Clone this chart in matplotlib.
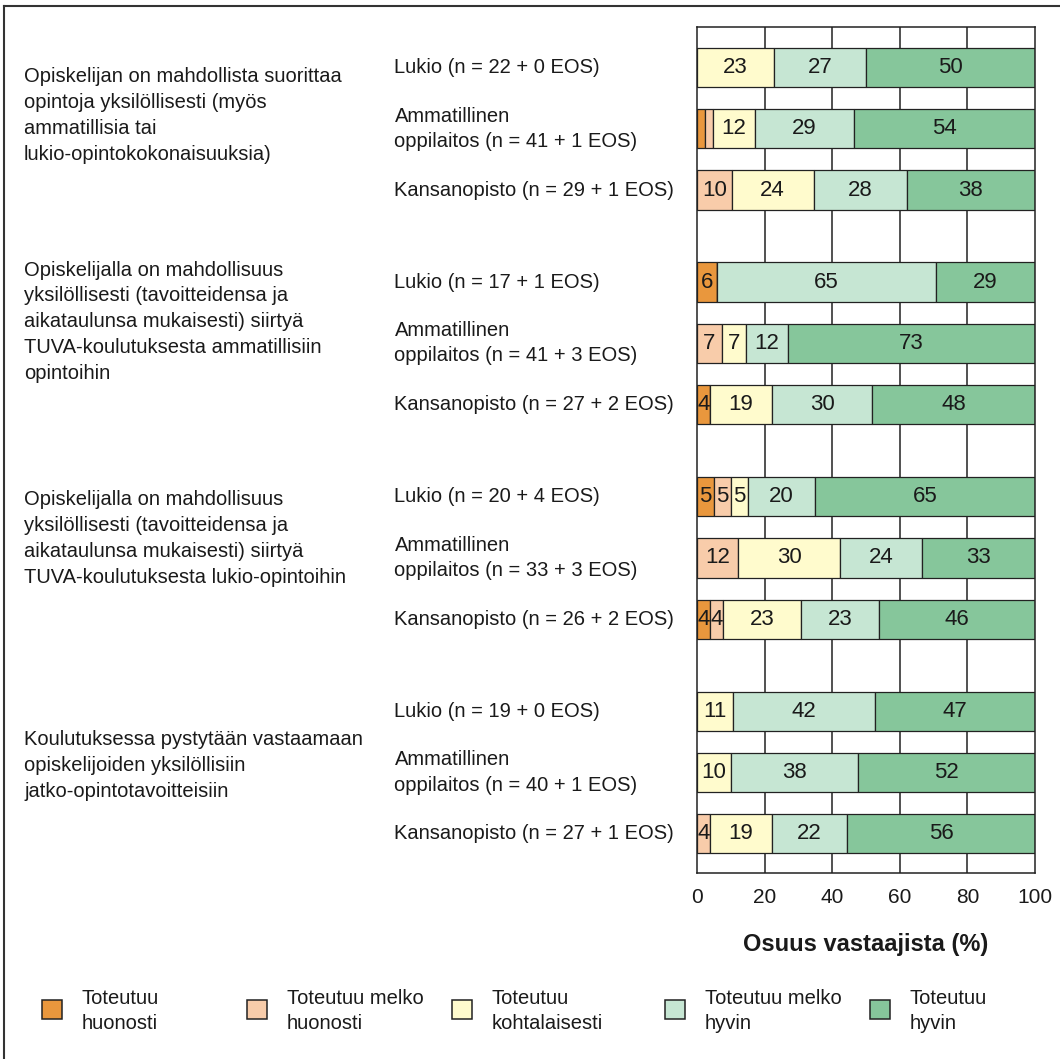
import matplotlib
matplotlib.use("Agg")
import matplotlib.pyplot as plt
from matplotlib.patches import Rectangle
from matplotlib.lines import Line2D
import numpy as np

plt.rcParams['font.family'] = ['Liberation Sans', 'DejaVu Sans']

# Response categories (legend order) and their fill colours
categories = ["Toteutuu\nhuonosti", "Toteutuu melko\nhuonosti", "Toteutuu\nkohtalaisesti",
              "Toteutuu melko\nhyvin", "Toteutuu\nhyvin"]
colors = ["#E9973D", "#F8CCAA", "#FFFBCD", "#C6E6D3", "#86C69B"]

# Statement texts (one per group of three bars)
statements = [
    "Opiskelijan on mahdollista suorittaa\nopintoja yksilöllisesti (myös\nammatillisia tai\nlukio-opintokokonaisuuksia)",
    "Opiskelijalla on mahdollisuus\nyksilöllisesti (tavoitteidensa ja\naikataulunsa mukaisesti) siirtyä\nTUVA-koulutuksesta ammatillisiin\nopintoihin",
    "Opiskelijalla on mahdollisuus\nyksilöllisesti (tavoitteidensa ja\naikataulunsa mukaisesti) siirtyä\nTUVA-koulutuksesta lukio-opintoihin",
    "Koulutuksessa pystytään vastaamaan\nopiskelijoiden yksilöllisiin\njatko-opintotavoitteisiin",
]

# Institution rows, top to bottom
row_labels = [
    "Lukio (n = 22 + 0 EOS)", "Ammatillinen\noppilaitos (n = 41 + 1 EOS)", "Kansanopisto (n = 29 + 1 EOS)",
    "Lukio (n = 17 + 1 EOS)", "Ammatillinen\noppilaitos (n = 41 + 3 EOS)", "Kansanopisto (n = 27 + 2 EOS)",
    "Lukio (n = 20 + 4 EOS)", "Ammatillinen\noppilaitos (n = 33 + 3 EOS)", "Kansanopisto (n = 26 + 2 EOS)",
    "Lukio (n = 19 + 0 EOS)", "Ammatillinen\noppilaitos (n = 40 + 1 EOS)", "Kansanopisto (n = 27 + 1 EOS)",
]

# Shares (%) per category, one value per row
huonosti       = [0,    2.44, 0,    5.88,  0,    3.70,  5,  0,     3.85,  0,     0,    0]
melko_huonosti = [0,    2.44, 10.34, 0,    7.32, 0,     5,  12.12, 3.85,  0,     0,    3.70]
kohtalaisesti  = [22.73, 12.20, 24.14, 0,   7.32, 18.52, 5,  30.30, 23.08, 10.53, 10.0, 18.52]
melko_hyvin    = [27.27, 29.27, 27.59, 64.71, 12.20, 29.63, 20, 24.24, 23.08, 42.11, 37.5, 22.22]
hyvin          = [50.0, 53.66, 37.93, 29.41, 73.17, 48.15, 65, 33.33, 46.15, 47.37, 52.5, 55.56]

series = [huonosti, melko_huonosti, kohtalaisesti, melko_hyvin, hyvin]

x_ticks = [0, 20, 40, 60, 80, 100]
x_label = "Osuus vastaajista (%)"

# Row positions: three rows per group, half-row gap between groups
ypos = np.array([g * 3.5 + r for g in range(4) for r in range(3)])
group_label_y = [0.78, 4.15, 7.68, 11.39]

W, H = 1060, 1059
fig = plt.figure(figsize=(W / 100, H / 100), dpi=100)
ax = fig.add_axes([697 / W, 1 - 873 / H, 338 / W, 846 / H])

edge = "#222222"
for xv in x_ticks[1:-1]:
    ax.axvline(xv, color=edge, lw=1.1, zorder=0)

left = np.zeros(len(ypos))
for vals, col in zip(series, colors):
    vals = np.array(vals, dtype=float)
    ax.barh(ypos, vals, left=left, height=0.64, color=col, edgecolor=edge,
            linewidth=0.9, zorder=2)
    for y, l, v in zip(ypos, left, vals):
        if v >= 3.5:
            ax.text(l + v / 2, y, f"{v:.0f}", ha="center", va="center",
                    fontsize=16, color="#1a1a1a", zorder=3)
    left += vals

ax.set_xlim(0, 100)
ax.set_ylim(13.14, -0.66)
ax.set_yticks([])
ax.set_xticks(x_ticks)
ax.tick_params(axis="x", length=0, pad=11, labelsize=15, colors="#1a1a1a")
for s in ax.spines.values():
    s.set_linewidth(1.1)
    s.set_color(edge)

# Row labels, left-aligned in the middle column
for y, lab in zip(ypos, row_labels):
    ax.text(-89.5, y, lab, ha="left", va="center", fontsize=14.5,
            linespacing=1.42, color="#1a1a1a", clip_on=False)

# Statement labels in the left column
for y, lab in zip(group_label_y, statements):
    ax.text(-199.1, y, lab, ha="left", va="center", fontsize=14.5,
            linespacing=1.46, color="#1a1a1a", clip_on=False)

fig.text(866 / W, 1 - 945 / H, x_label, ha="center", va="center",
         fontsize=17, fontweight="bold", color="#1a1a1a")

# Legend row
leg_x = [42, 247, 452, 665, 870]
for lx, col, cat in zip(leg_x, colors, categories):
    fig.patches.append(Rectangle((lx / W, 1 - 1019 / H), 20 / W, 19 / H,
                                 transform=fig.transFigure, facecolor=col,
                                 edgecolor=edge, linewidth=1.1))
    fig.text((lx + 40) / W, 1 - 1011 / H, cat, ha="left", va="center",
             fontsize=14.5, linespacing=1.36, color="#1a1a1a")

# Frame lines along the top and left edges
fig.lines.append(Line2D([4 / W, 1], [1 - 6 / H, 1 - 6 / H], transform=fig.transFigure,
                        color="#333333", lw=1.5))
fig.lines.append(Line2D([4 / W, 4 / W], [0, 1 - 6 / H], transform=fig.transFigure,
                        color="#333333", lw=1.5))

fig.savefig("out.png", dpi=100, facecolor="white")
